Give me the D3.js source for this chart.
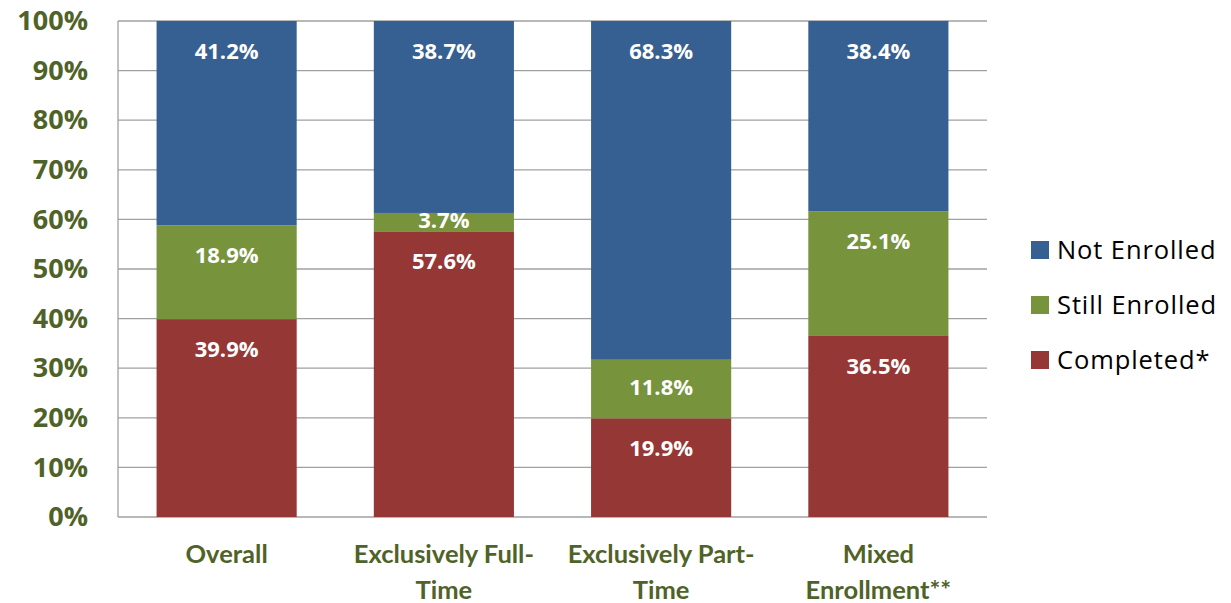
<!DOCTYPE html>
<html><head><meta charset="utf-8">
<script src="https://cdn.jsdelivr.net/npm/d3@7/dist/d3.min.js"></script>
<style>body{margin:0;background:#fff}svg{display:block}</style>
</head><body>
<svg id="c" width="1231" height="603"></svg>
<script>
const categories = [["Overall"], ["Exclusively Full-", "Time"], ["Exclusively Part-", "Time"], ["Mixed", "Enrollment**"]];
const completed = [39.9, 57.6, 19.9, 36.5];
const stillEnrolled = [18.9, 3.7, 11.8, 25.1];
const notEnrolled = [41.2, 38.7, 68.3, 38.4];
const seriesNames = ["Completed*", "Still Enrolled", "Not Enrolled"];
const colors = ["#953735", "#77933C", "#376092"];
const yTicks = [0,10,20,30,40,50,60,70,80,90,100];

(function(){
const svg = d3.select("#c");
const pL = 118, pR = 987, pT = 21, pB = 517;
const fontO = "'Open Sans', Lato, sans-serif";
const fontL = "Lato, 'Open Sans', sans-serif";
const x = d3.scaleBand().domain(d3.range(categories.length)).range([pL, pR]).paddingInner(0.355).paddingOuter(0.1775);
const y = d3.scaleLinear().domain([0,100]).range([pB, pT]);

svg.append("g").selectAll("line").data(yTicks).join("line")
  .attr("x1", pL).attr("x2", pR).attr("y1", d=>y(d)).attr("y2", d=>y(d))
  .attr("stroke", "#A0A0A0").attr("stroke-width", 1.3);
svg.append("line").attr("x1", pL).attr("x2", pL).attr("y1", pT).attr("y2", pB).attr("stroke","#A0A0A0").attr("stroke-width",1.3);

const yAxis = d3.axisLeft(y).tickValues(yTicks).tickFormat(d=>d+"%").tickSize(0).tickPadding(30);
const ya = svg.append("g").attr("transform", `translate(${pL},0)`).call(yAxis);
ya.select(".domain").remove();
ya.selectAll("text").attr("font-family", fontO).attr("font-weight", "bold").attr("font-size", 27).attr("fill", "#4F6228");

const data = [completed, stillEnrolled, notEnrolled];
const g = svg.append("g");
categories.forEach((c, i) => {
  let base = 0;
  data.forEach((s, k) => {
    const v = s[i];
    const y0 = y(base), y1 = y(base + v);
    g.append("rect").attr("x", x(i)).attr("width", x.bandwidth()).attr("y", y1).attr("height", y0 - y1).attr("fill", colors[k]);
    const h = y0 - y1;
    const ly = h < 60 ? (y0 + y1) / 2 - 2 : y1 + 30;
    g.append("text").attr("x", x(i) + x.bandwidth()/2).attr("y", ly).attr("dy", "0.36em")
      .attr("text-anchor", "middle").attr("font-family", fontO).attr("font-weight", "bold").attr("font-size", 22)
      .attr("fill", "#fff").text(v.toFixed(1) + "%");
    base += v;
  });
});

categories.forEach((lines, i) => {
  const t = svg.append("text").attr("x", x(i) + x.bandwidth()/2).attr("text-anchor", "middle")
    .attr("font-family", fontL).attr("font-weight", "bold").attr("font-size", 25.5).attr("fill", "#4F6228");
  lines.forEach((l, j) => t.append("tspan").attr("x", x(i) + x.bandwidth()/2).attr("y", 563 + j*36).text(l));
});

const legendOrder = [2, 1, 0];
legendOrder.forEach((k, j) => {
  const ly = 250 + j*55;
  svg.append("rect").attr("x", 1031).attr("y", ly - 9).attr("width", 18).attr("height", 18).attr("fill", colors[k]);
  svg.append("text").attr("x", 1057).attr("y", ly).attr("dy", "0.36em").attr("font-family", fontO)
    .attr("font-size", 25.5).attr("letter-spacing", 0.9).attr("fill", "#000").text(seriesNames[k]);
});
})();
</script>
</body></html>
